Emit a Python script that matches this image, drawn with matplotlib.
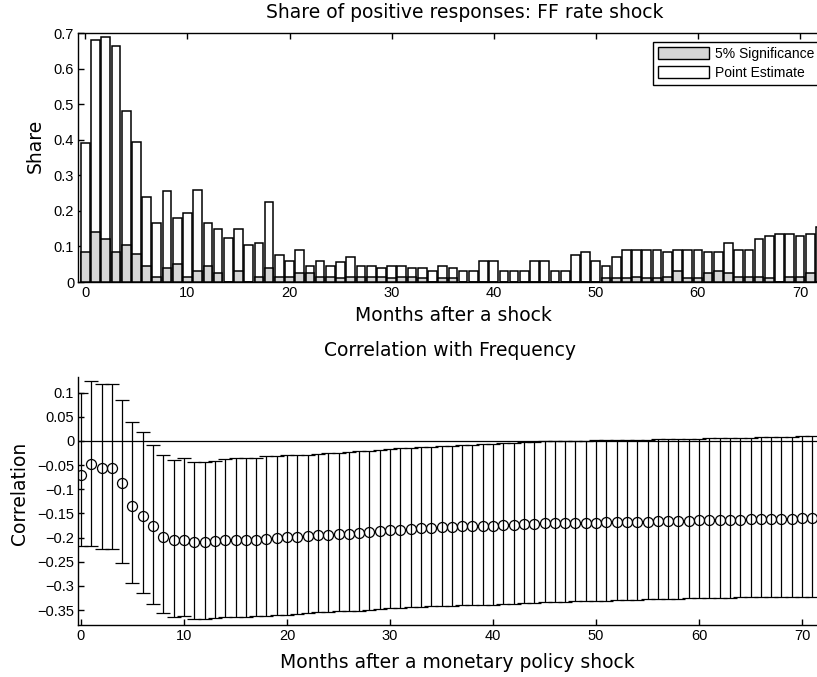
import numpy as np
import matplotlib
matplotlib.use("Agg")
import matplotlib.pyplot as plt
from matplotlib.patches import Patch
from matplotlib.ticker import FuncFormatter

# ---------------- data ----------------
months_top = np.arange(73)
point_est = [0.39, 0.68, 0.69, 0.665, 0.48, 0.395, 0.24, 0.165, 0.255, 0.18,
             0.195, 0.26, 0.165, 0.15, 0.125, 0.15, 0.105, 0.11, 0.225, 0.075,
             0.06, 0.09, 0.045, 0.06, 0.045, 0.055, 0.07, 0.045, 0.045, 0.04,
             0.045, 0.045, 0.04, 0.04, 0.03, 0.045, 0.04, 0.03, 0.03, 0.06,
             0.06, 0.03, 0.03, 0.03, 0.06, 0.06, 0.03, 0.03, 0.075, 0.085,
             0.06, 0.045, 0.07, 0.09, 0.09, 0.09, 0.09, 0.085, 0.09, 0.09,
             0.09, 0.085, 0.085, 0.11, 0.09, 0.09, 0.12, 0.13, 0.135, 0.135,
             0.13, 0.135, 0.155]
sig5 = [0.085, 0.14, 0.12, 0.085, 0.105, 0.08, 0.045, 0.015, 0.04, 0.05,
        0.015, 0.03, 0.045, 0.025, 0.0, 0.03, 0.0, 0.015, 0.04, 0.015,
        0.015, 0.025, 0.025, 0.015, 0.015, 0.01, 0.015, 0.015, 0.015, 0.015,
        0.01, 0.015, 0.015, 0.01, 0.0, 0.01, 0.01, 0.0, 0.0, 0.0,
        0.0, 0.0, 0.0, 0.0, 0.0, 0.0, 0.0, 0.0, 0.0, 0.0,
        0.0, 0.01, 0.01, 0.01, 0.015, 0.01, 0.01, 0.015, 0.03, 0.01,
        0.01, 0.025, 0.03, 0.025, 0.015, 0.015, 0.015, 0.01, 0.0, 0.015,
        0.015, 0.025, 0.0]

months_bot = np.arange(72)
corr = [-0.070, -0.048, -0.055, -0.055, -0.086, -0.134, -0.155, -0.177, -0.199, -0.206,
        -0.206, -0.210, -0.210, -0.208, -0.206, -0.205, -0.205, -0.204, -0.202, -0.200,
        -0.199, -0.199, -0.197, -0.195, -0.194, -0.193, -0.192, -0.191, -0.189, -0.187,
        -0.185, -0.184, -0.182, -0.181, -0.180, -0.179, -0.178, -0.177, -0.176, -0.176,
        -0.175, -0.174, -0.173, -0.172, -0.171, -0.170, -0.170, -0.170, -0.169, -0.169,
        -0.169, -0.168, -0.168, -0.167, -0.167, -0.167, -0.166, -0.166, -0.165, -0.165,
        -0.164, -0.164, -0.163, -0.163, -0.163, -0.162, -0.162, -0.161, -0.161, -0.161,
        -0.160, -0.160]
corr_hi = [0.100, 0.124, 0.117, 0.117, 0.085, 0.039, 0.018, -0.008, -0.029, -0.039,
           -0.036, -0.044, -0.043, -0.041, -0.038, -0.036, -0.035, -0.035, -0.032, -0.031,
           -0.030, -0.029, -0.028, -0.026, -0.025, -0.024, -0.023, -0.021, -0.020, -0.018,
           -0.016, -0.015, -0.014, -0.013, -0.012, -0.011, -0.010, -0.009, -0.008, -0.007,
           -0.006, -0.005, -0.004, -0.003, -0.002, -0.001, -0.001, 0.000, 0.000, 0.001,
           0.002, 0.002, 0.002, 0.003, 0.003, 0.003, 0.004, 0.004, 0.004, 0.005,
           0.005, 0.006, 0.006, 0.006, 0.007, 0.007, 0.008, 0.008, 0.009, 0.009,
           0.010, 0.010]
corr_lo = [-0.217, -0.217, -0.224, -0.224, -0.252, -0.295, -0.315, -0.338, -0.357, -0.364,
           -0.362, -0.369, -0.369, -0.367, -0.365, -0.364, -0.364, -0.363, -0.362, -0.361,
           -0.360, -0.359, -0.357, -0.355, -0.354, -0.353, -0.352, -0.351, -0.349, -0.348,
           -0.346, -0.345, -0.344, -0.343, -0.342, -0.341, -0.341, -0.340, -0.340, -0.339,
           -0.339, -0.338, -0.337, -0.336, -0.335, -0.334, -0.334, -0.333, -0.332, -0.332,
           -0.331, -0.331, -0.330, -0.329, -0.329, -0.328, -0.328, -0.327, -0.327, -0.326,
           -0.326, -0.325, -0.325, -0.325, -0.324, -0.324, -0.323, -0.323, -0.323, -0.322,
           -0.322, -0.322]

top_xticks = [0, 10, 20, 30, 40, 50, 60, 70]
top_yticks = [0, 0.1, 0.2, 0.3, 0.4, 0.5, 0.6, 0.7]
bot_xticks = [0, 10, 20, 30, 40, 50, 60, 70]
bot_yticks = [0.1, 0.05, 0, -0.05, -0.1, -0.15, -0.2, -0.25, -0.3, -0.35]

# ---------------- style ----------------
TICKFONT = ['Liberation Sans Narrow', 'Liberation Sans', 'DejaVu Sans']
LABFONT = ['DejaVu Sans']
plt.rcParams['font.family'] = LABFONT
plt.rcParams['axes.unicode_minus'] = True
LABSIZE = 13.5
TICKSIZE = 10.5

W, H = 817, 677
fig = plt.figure(figsize=(W / 100, H / 100), dpi=100)


def fx(px):
    return px / W


def fy(py):
    return 1 - py / H


def fmt(v, pos):
    s = '%g' % v
    return s.replace('-', '\u2212')


# ---------------- top panel ----------------
t_l, t_r, t_t, t_b = 78.3, 830.6, 33.3, 282.0
ax1 = fig.add_axes([fx(t_l), fy(t_b), fx(t_r - t_l), (t_b - t_t) / H])
ax1.bar(months_top, point_est, width=0.85, color='white', edgecolor='black',
        linewidth=1.1, label='Point Estimate', zorder=2)
ax1.bar(months_top, sig5, width=0.85, color='#d6d6d6', edgecolor='black',
        linewidth=1.1, label='5% Significance', zorder=3)
ax1.set_xlim(-0.69, 73.0)
ax1.set_ylim(0, 0.7)
ax1.set_xticks(top_xticks)
ax1.set_yticks(top_yticks)
ax1.xaxis.set_major_formatter(FuncFormatter(fmt))
ax1.yaxis.set_major_formatter(FuncFormatter(fmt))
ax1.tick_params(direction='in', top=True, right=True, length=4.5, width=1.0,
                labelsize=TICKSIZE, pad=3)
for lab in ax1.get_xticklabels() + ax1.get_yticklabels():
    lab.set_family(TICKFONT)
for sp in ax1.spines.values():
    sp.set_linewidth(1.0)

ax1.set_title('Share of positive responses: FF rate shock', fontsize=LABSIZE,
              x=(465 - t_l) / (t_r - t_l), y=(t_b - 13) / (t_b - t_t),
              va='center', pad=0)
ax1.set_xlabel('Months after a shock', fontsize=LABSIZE, va='center')
ax1.xaxis.set_label_coords((453 - t_l) / (t_r - t_l), (t_b - 315) / (t_b - t_t))
ax1.set_ylabel('Share', fontsize=LABSIZE, va='center')
ax1.yaxis.set_label_coords((35 - t_l) / (t_r - t_l), (t_b - 146) / (t_b - t_t))

h_sig = Patch(facecolor='#d6d6d6', edgecolor='black', linewidth=1.0)
h_pe = Patch(facecolor='white', edgecolor='black', linewidth=1.0)
leg = ax1.legend([h_sig, h_pe], ['5% Significance', 'Point Estimate'],
                 loc='upper right', bbox_to_anchor=(fx(819), fy(42)),
                 bbox_transform=fig.transFigure, borderaxespad=0,
                 fancybox=False, framealpha=1, edgecolor='black',
                 handlelength=3.7, handleheight=0.9, handletextpad=0.4,
                 labelspacing=0.35, borderpad=0.35,
                 prop={'family': TICKFONT, 'size': 10})
leg.get_frame().set_linewidth(1.0)

# ---------------- bottom panel ----------------
b_l, b_r, b_t, b_b = 78.3, 833.0, 377.0, 625.0
ax2 = fig.add_axes([fx(b_l), fy(b_b), fx(b_r - b_l), (b_b - b_t) / H])
yerr = [np.array(corr) - np.array(corr_lo), np.array(corr_hi) - np.array(corr)]
ax2.errorbar(months_bot, corr, yerr=yerr, fmt='none', ecolor='black',
             elinewidth=0.9, capsize=5.3, capthick=0.9, zorder=2)
ax2.plot(months_bot, corr, 'o', mfc='none', mec='black', ms=7.2, mew=0.9,
         zorder=3)
ax2.axhline(0, color='black', linewidth=0.9, zorder=1)
ax2.set_xlim(-0.26, 73.0)
ax2.set_ylim(-0.381, 0.1325)
ax2.set_xticks(bot_xticks)
ax2.set_yticks(bot_yticks)
ax2.xaxis.set_major_formatter(FuncFormatter(fmt))
ax2.yaxis.set_major_formatter(FuncFormatter(fmt))
ax2.tick_params(direction='in', length=4.5, width=1.0, labelsize=TICKSIZE, pad=3)
for lab in ax2.get_xticklabels() + ax2.get_yticklabels():
    lab.set_family(TICKFONT)
ax2.spines['top'].set_visible(False)
ax2.spines['right'].set_visible(False)
for sp in ax2.spines.values():
    sp.set_linewidth(1.0)

ax2.set_title('Correlation with Frequency', fontsize=LABSIZE,
              x=(450 - b_l) / (b_r - b_l), y=(b_b - 350) / (b_b - b_t),
              va='center', pad=0)
ax2.set_xlabel('Months after a monetary policy shock', fontsize=LABSIZE, va='center')
ax2.xaxis.set_label_coords((457 - b_l) / (b_r - b_l), (b_b - 663) / (b_b - b_t))
ax2.set_ylabel('Correlation', fontsize=LABSIZE, va='center')
ax2.yaxis.set_label_coords((20 - b_l) / (b_r - b_l), (b_b - 493) / (b_b - b_t))

fig.savefig('out.png', dpi=100)
